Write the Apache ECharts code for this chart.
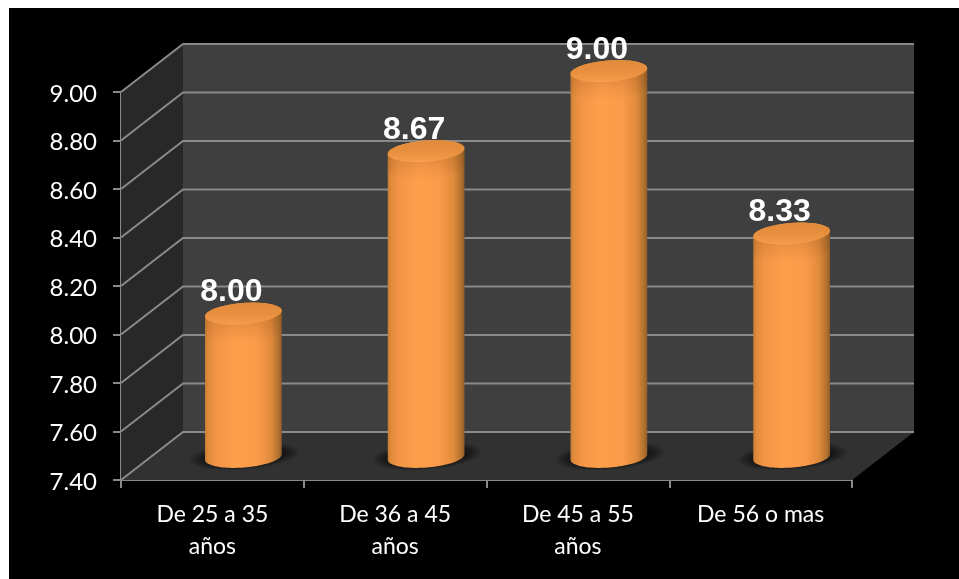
<!DOCTYPE html>
<html>
<head>
<meta charset="utf-8">
<style>
html,body{margin:0;padding:0;background:#fff;overflow:hidden}
#panel{position:absolute;left:9px;top:8px;right:0;bottom:0;background:#000}
#chart{position:absolute;left:0;top:0;width:959px;height:579px}
</style>
<script src="https://cdn.jsdelivr.net/npm/echarts@6/dist/echarts.min.js"></script>
</head>
<body>
<div id="panel"></div>
<div id="chart"></div>
<script>
var categories = ['De 25 a 35\naños', 'De 36 a 45\naños', 'De 45 a 55\naños', 'De 56 o mas'];
var values = [8.00, 8.67, 9.00, 8.33];
var valueLabels = ['8.00', '8.67', '9.00', '8.33'];
var tickValues = [7.4, 7.6, 7.8, 8.0, 8.2, 8.4, 8.6, 8.8, 9.0];
var axisMin = 7.4, axisMax = 9.0, axisStep = 0.2;

var DX = 62, DY = -48;          // depth of the 3D box
var RX = 38.5, RY = 10.5, TILT = -4.5 * Math.PI / 180;
var LINE = '#8a8a8a';

function ellipse(cx, cy, rx, ry, from, to) {
  var pts = [], n = 48;
  for (var i = 0; i <= n; i++) {
    var a = from + (to - from) * i / n;
    var x = rx * Math.cos(a), y = ry * Math.sin(a);
    pts.push([cx + x * Math.cos(TILT) - y * Math.sin(TILT),
              cy + x * Math.sin(TILT) + y * Math.cos(TILT)]);
  }
  return pts;
}
function grad(x2, y2, stops) {
  return new echarts.graphic.LinearGradient(0, 0, x2, y2, stops.map(function (s) {
    return { offset: s[0], color: s[1] };
  }));
}

function renderBox(params, api) {
  if (params.dataIndex !== 0) return;
  var tl = api.coord([0, axisMax]), bl = api.coord([0, axisMin]);
  var cs = params.coordSys, L = cs.x, R = cs.x + cs.width, T = tl[1], B = bl[1];
  return {
    type: 'group', silent: true,
    children: [
      { type: 'polygon', shape: { points: [[L + DX, T + DY], [R + DX, T + DY], [R + DX, B + DY], [L + DX, B + DY]] }, style: { fill: '#3f3f3f' } },
      { type: 'polygon', shape: { points: [[L, T], [L + DX, T + DY], [L + DX, B + DY], [L, B]] }, style: { fill: '#282828' } },
      { type: 'polygon', shape: { points: [[L, B], [L + DX, B + DY], [R + DX, B + DY], [R, B]] }, style: { fill: '#313131' } }
    ]
  };
}
function renderGridLine(params, api) {
  var cs = params.coordSys, L = cs.x, R = cs.x + cs.width;
  var y = api.coord([0, api.value(0)])[1];
  return {
    type: 'polyline', silent: true,
    shape: { points: [[L, y], [L + DX, y + DY], [R + DX, y + DY]] },
    style: { stroke: LINE, lineWidth: 2, fill: null }
  };
}
function renderCylinder(params, api) {
  var top = api.coord([api.value(0), api.value(1)]);
  var bot = api.coord([api.value(0), axisMin]);
  var cx = top[0] + DX / 2, tY = top[1] - 21, bY = bot[1] - 23;
  var lower = ellipse(cx, bY, RX, RY, 0, Math.PI);
  var body = ellipse(cx, tY, RX, RY, Math.PI, 2 * Math.PI).concat(lower);
  var shade = ellipse(cx, tY, RX, RY, 0, Math.PI).concat(ellipse(cx, tY + 18, RX, RY, Math.PI, 0));
  var children = [];
  // soft floor shadow: concentric translucent rings
  for (var k = 0; k < 9; k++) {
    children.push({
      type: 'polygon',
      shape: { points: ellipse(cx + 1, bY - 1, RX + 16 - k * 2, RY + 3 - k * 0.5, 0, 2 * Math.PI) },
      style: { fill: 'rgba(0,0,0,0.075)' }
    });
  }
  children.push(
    { type: 'polygon', shape: { points: body },
      style: { fill: grad(1, 0, [[0, '#c47b34'], [0.04, '#e08a3c'], [0.14, '#f29545'], [0.4, '#ff9f4c'], [0.68, '#fb9b49'], [0.86, '#e08a3c'], [0.96, '#b0702f'], [1, '#8f5c2a']]) } },
    { type: 'polygon', shape: { points: shade },
      style: { fill: grad(0, 1, [[0, 'rgba(130,70,15,0.28)'], [1, 'rgba(130,70,15,0)']]) } },
    { type: 'polygon', shape: { points: ellipse(cx, tY, RX, RY, 0, 2 * Math.PI) },
      style: { fill: grad(0, 1, [[0, '#e08a3b'], [0.55, '#e8903f'], [0.92, '#f39a49'], [1, '#f7a251']]) } }
  );
  return { type: 'group', silent: true, children: children };
}
function renderLabel(params, api) {
  var top = api.coord([api.value(0), api.value(1)]);
  return {
    type: 'text', silent: true,
    x: top[0] + 19, y: top[1] - 42,
    style: {
      text: valueLabels[params.dataIndex], fill: '#fff',
      font: 'bold 32px "Liberation Sans", Arial, sans-serif',
      align: 'center', verticalAlign: 'middle'
    }
  };
}

var chart = echarts.init(document.getElementById('chart'), null, { renderer: 'canvas' });
chart.setOption({
  animation: false,
  backgroundColor: 'transparent',
  grid: { left: 121, top: 92, width: 731, height: 388, containLabel: false },
  xAxis: {
    type: 'category', data: categories, boundaryGap: true,
    axisLine: { show: true, onZero: false, lineStyle: { color: LINE, width: 2 } },
    axisTick: { show: true, alignWithLabel: false, length: 8, lineStyle: { color: LINE, width: 2 } },
    splitLine: { show: false },
    axisLabel: { color: '#fff', fontFamily: 'Lato', fontSize: 23, lineHeight: 32, margin: 19, interval: 0 }
  },
  yAxis: {
    type: 'value', min: axisMin, max: axisMax, interval: axisStep,
    axisLine: { show: true, lineStyle: { color: LINE, width: 2 } },
    axisTick: { show: true, length: 8, lineStyle: { color: LINE, width: 2 } },
    splitLine: { show: false },
    axisLabel: { color: '#fff', fontFamily: 'Lato', fontSize: 24, margin: 24, verticalAlign: 'top', padding: [-10, 0, 0, 0],
      formatter: function (v) { return v.toFixed(2); } }
  },
  series: [
    { type: 'custom', coordinateSystem: 'cartesian2d', clip: false, z: 1, renderItem: renderBox,
      encode: { x: 0, y: 1 }, data: [[0, axisMin]] },
    { type: 'custom', coordinateSystem: 'cartesian2d', clip: false, z: 2, renderItem: renderGridLine,
      encode: { y: 0 }, data: tickValues.map(function (t) { return [t]; }) },
    { type: 'custom', coordinateSystem: 'cartesian2d', clip: false, z: 3, renderItem: renderCylinder,
      encode: { x: 0, y: 1 }, data: values.map(function (v, i) { return [i, v]; }) },
    { type: 'custom', coordinateSystem: 'cartesian2d', clip: false, z: 4, renderItem: renderLabel,
      encode: { x: 0, y: 1 }, data: values.map(function (v, i) { return [i, v]; }) }
  ]
});
</script>
</body>
</html>
